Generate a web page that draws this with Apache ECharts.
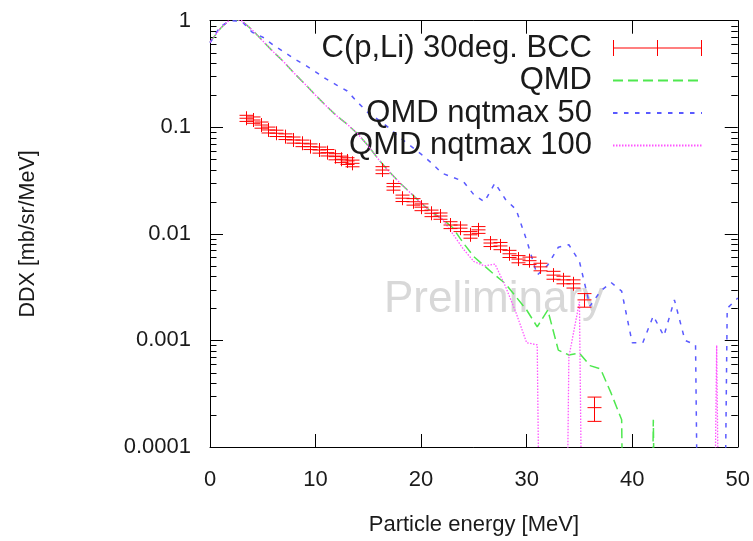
<!DOCTYPE html>
<html>
<head>
<meta charset="utf-8">
<script src="https://cdn.jsdelivr.net/npm/echarts@6/dist/echarts.min.js"></script>
<style>
  html, body { margin: 0; padding: 0; background: #ffffff; }
  #chart { width: 753px; height: 541px; }
</style>
</head>
<body>
<div id="chart"></div>
<script>
// Model spectra, one value per 1 MeV energy bin (0 = empty bin)
const energyBins = [0,1,2,3,4,5,6,7,8,9,10,11,12,13,14,15,16,17,18,19,20,21,22,23,24,25,26,27,28,29,30,31,32,33,34,35,36,37,38,39,40,41,42,43,44,45,46,47,48,49,50];

const qmd = [0.63,0.85,1.05,1.0,0.82,0.645,0.51,0.41,0.32,0.254,0.20,0.159,0.128,0.107,0.0865,0.0668,0.0494,0.0381,0.030,0.0242,0.0195,0.0160,0.0138,0.0114,0.0082,0.0061,0.0050,0.0041,0.0034,0.00256,0.00193,0.00134,0.00193,0.00081,0.00073,0.00076,0.00058,0.00054,0.00032,0.00018,0,0,0.00018,0,0,0,0,0,0,0,0];

const qmdNqtmax50 = [0.62,0.89,1.0,0.99,0.78,0.70,0.59,0.51,0.437,0.384,0.331,0.284,0.249,0.219,0.171,0.136,0.117,0.098,0.080,0.067,0.056,0.046,0.037,0.034,0.031,0.0233,0.020,0.030,0.021,0.0169,0.0087,0.0041,0.0051,0.0075,0.0079,0.0055,0.0021,0.0029,0.0035,0.0029,0.00095,0.00095,0.0017,0.0011,0.0024,0.0010,0.00091,0,0,0.0020,0.0025];

const qmdNqtmax100 = [0.63,0.85,1.05,1.0,0.82,0.645,0.51,0.41,0.32,0.254,0.20,0.159,0.128,0.107,0.0865,0.0668,0.0494,0.0381,0.030,0.0242,0.0195,0.0160,0.0138,0.0100,0.0072,0.0055,0.0050,0.0052,0.0032,0.00181,0.00095,0.00091,0,0,0.0007,0.0023,0,0,0,0,0,0,0,0,0,0,0,0,0.0009,0,0];

// Measured C(p,Li) at 30 deg: energy [MeV], DDX, absolute error
const expEnergy = [3.4,4.1,4.8,5.5,6.3,7.1,7.9,8.7,9.5,10.3,11.1,11.8,12.4,13.0,13.5,
                   16.3,17.3,18.2,19.2,20.0,20.9,21.8,22.7,23.7,24.6,25.4,26.5,27.5,28.3,29.2,30.2,31.3,32.5,33.4,34.4,35.4,36.4];
const expValue = [0.1215,0.117,0.105,0.0944,0.0879,0.0817,0.0760,0.0708,0.0658,0.0612,0.0578,0.0530,0.0501,0.0483,0.0459,
                  0.0397,0.0277,0.0216,0.0200,0.0178,0.0156,0.0147,0.0121,0.0113,0.0098,0.0109,0.0082,0.0077,0.0065,0.0058,0.0056,0.0049,0.0041,0.0037,0.0034,0.0024,0.000234];
const expError = [0.008,0.008,0.007,0.006,0.006,0.005,0.005,0.005,0.004,0.004,0.004,0.0035,0.0035,0.0035,0.0033,
                  0.003,0.002,0.0015,0.0014,0.0013,0.0011,0.001,0.0009,0.0008,0.0007,0.0008,0.0006,0.0006,0.0005,0.00045,0.00045,0.0004,0.00035,0.0003,0.0003,0.00035,0.00006];

const xTicks = [0, 10, 20, 30, 40, 50];
const yTickLabels = ['0.0001', '0.001', '0.01', '0.1', '1'];

const ZERO_FLOOR = 1e-12;   // empty bins fall off the bottom of the log axis
const FONT = 'Liberation Sans, Arial, sans-serif';
const TEXT = '#1a1a1a';

const pairs = (ys) => energyBins.map((e, i) => [e, ys[i] > 0 ? ys[i] : ZERO_FLOOR]);

// minor ticks of the log axis: 2..9 x 10^k
const minorTickValues = [];
for (let k = -4; k < 0; k++) for (let m = 2; m <= 9; m++) minorTickValues.push(m * Math.pow(10, k));

const chart = echarts.init(document.getElementById('chart'), null, { renderer: 'canvas' });

const axisBase = {
  axisLine: { show: true, onZero: false, lineStyle: { color: '#000', width: 1 } },
  axisTick: { show: true, inside: true, length: 13, lineStyle: { color: '#000', width: 1 } },
  splitLine: { show: false }
};

const ERR_HALF = 7;

const lineSeries = (name, ys, color, width, dash, z) => ({
  name, type: 'line', z, clip: true,
  symbol: 'none', showSymbol: false,
  color,
  itemStyle: { color, opacity: 0 },
  lineStyle: { color, width, type: dash },
  data: pairs(ys)
});

chart.setOption({
  animation: false,
  backgroundColor: '#ffffff',
  grid: { left: 210, right: 13, top: 20.7, bottom: 94, containLabel: false },
  xAxis: [
    Object.assign({}, axisBase, {
      type: 'value', position: 'bottom', min: 0, max: 50, interval: 10,
      axisLabel: { show: true, margin: 22, fontSize: 22, fontFamily: FONT, color: TEXT,
                   formatter: (v) => xTicks.includes(v) ? String(v) : '' },
      name: 'Particle energy [MeV]', nameLocation: 'middle', nameGap: 67,
      nameTextStyle: { fontSize: 22, fontFamily: FONT, color: TEXT }
    }),
    Object.assign({}, axisBase, {
      type: 'value', position: 'top', min: 0, max: 50, interval: 10,
      axisLabel: { show: false }
    })
  ],
  yAxis: [
    Object.assign({}, axisBase, {
      type: 'log', logBase: 10, position: 'left', min: 0.0001, max: 1,
      axisLabel: { show: true, margin: 19, fontSize: 22, fontFamily: FONT, color: TEXT,
                   formatter: (v) => {
                     const idx = Math.round(Math.log10(v)) + 4;
                     return yTickLabels[idx] !== undefined ? yTickLabels[idx] : '';
                   } },
      name: 'DDX [mb/sr/MeV]', nameLocation: 'middle', nameGap: 171, nameRotate: 90,
      nameTextStyle: { fontSize: 21.5, fontFamily: FONT, color: TEXT }
    }),
    Object.assign({}, axisBase, {
      type: 'log', logBase: 10, position: 'right', min: 0.0001, max: 1,
      axisLabel: { show: false }
    })
  ],
  legend: {
    show: true,
    orient: 'vertical',
    right: 50, top: 32.5,
    padding: 0,
    align: 'right',
    itemWidth: 89, itemHeight: 16, itemGap: 1.5,
    symbolKeepAspect: false,
    selectedMode: false,
    textStyle: { fontSize: 31, lineHeight: 30, fontFamily: FONT, color: TEXT, padding: [0, 16, 0, 0] },
    data: [
      { name: 'C(p,Li) 30deg. BCC',
        icon: 'path://M0,7.5H89V8.5H0Z M0,0H1V16H0Z M44,0H45V16H44Z M88,0H89V16H88Z' },
      { name: 'QMD' },
      { name: 'QMD nqtmax 50' },
      { name: 'QMD nqtmax 100' }
    ]
  },
  graphic: [{
    type: 'text', z: 0, silent: true,
    left: 384, top: 278,
    style: { text: 'Preliminary', font: '44px ' + FONT, fill: '#d8d8d8' }
  }],
  series: [
    {
      name: 'log minor ticks', type: 'custom', silent: true, z: 1,
      xAxisIndex: 0, yAxisIndex: 0, clip: false,
      data: minorTickValues.map((v) => [0, v]),
      renderItem: (params, api) => {
        const l = api.coord([0, api.value(1)]);
        const r = api.coord([50, api.value(1)]);
        const st = { stroke: '#000', lineWidth: 1 };
        const y = Math.round(l[1]) + 0.5;
        return { type: 'group', children: [
          { type: 'line', shape: { x1: l[0], y1: y, x2: l[0] + 6.5, y2: y }, style: st },
          { type: 'line', shape: { x1: r[0] - 6.5, y1: y, x2: r[0], y2: y }, style: st }
        ] };
      }
    },
    {
      name: 'C(p,Li) 30deg. BCC', type: 'custom', z: 5,
      xAxisIndex: 0, yAxisIndex: 0, clip: true,
      itemStyle: { color: '#ff0000' },
      data: expEnergy.map((e, i) => [e, expValue[i], expValue[i] - expError[i], expValue[i] + expError[i]]),
      renderItem: (params, api) => {
        const c = api.coord([api.value(0), api.value(1)]);
        const lo = api.coord([api.value(0), api.value(2)]);
        const hi = api.coord([api.value(0), api.value(3)]);
        const st = { stroke: '#ff0000', lineWidth: 1, fill: null };
        const x = Math.round(c[0]) + 0.5;
        return { type: 'group', children: [
          { type: 'line', shape: { x1: x, y1: hi[1], x2: x, y2: lo[1] }, style: st },
          { type: 'line', shape: { x1: x - ERR_HALF, y1: hi[1], x2: x + ERR_HALF, y2: hi[1] }, style: st },
          { type: 'line', shape: { x1: x - ERR_HALF, y1: lo[1], x2: x + ERR_HALF, y2: lo[1] }, style: st },
          { type: 'line', shape: { x1: x - ERR_HALF, y1: c[1], x2: x + ERR_HALF, y2: c[1] }, style: st },
          { type: 'line', shape: { x1: x, y1: c[1] - ERR_HALF, x2: x, y2: c[1] + ERR_HALF }, style: st }
        ] };
      }
    },
    lineSeries('QMD', qmd, '#4fe84f', 1.5, [10, 5], 3),
    lineSeries('QMD nqtmax 50', qmdNqtmax50, '#5a5aff', 1.5, [4.5, 6.5], 3),
    lineSeries('QMD nqtmax 100', qmdNqtmax100, '#ff55ff', 1.3, [1.5, 1.5], 4)
  ]
});
</script>
</body>
</html>
